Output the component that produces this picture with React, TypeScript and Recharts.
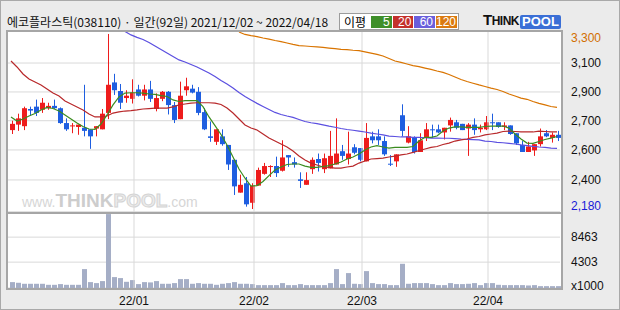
import React from "react";
import {
  ComposedChart,
  Bar,
  Line,
  XAxis,
  YAxis,
  CartesianGrid,
  ReferenceLine,
} from "recharts";

// trading days in the window 2021/12/02 ~ 2022/04/18
const DAYS_DEC = [2, 3, 6, 7, 8, 9, 10, 13, 14, 15, 16, 17, 20, 21, 22, 23, 24, 27, 28, 29, 30];
const DAYS_JAN = [3, 4, 5, 6, 7, 10, 11, 12, 13, 14, 17, 18, 19, 20, 21, 24, 25, 26, 27, 28];
const DAYS_FEB = [3, 4, 7, 8, 9, 10, 11, 14, 15, 16, 17, 18, 21, 22, 23, 24, 25, 28];
const DAYS_MAR = [2, 3, 4, 7, 8, 10, 11, 14, 15, 16, 17, 18, 21, 22, 23, 24, 25, 28, 29, 30, 31];
const DAYS_APR = [1, 4, 5, 6, 7, 8, 11, 12, 13, 14, 15, 18];

const pad = (n: number) => (n < 10 ? "0" + n : "" + n);
const DATES = [
  ...DAYS_DEC.map((d) => `2021-12-${pad(d)}`),
  ...DAYS_JAN.map((d) => `2022-01-${pad(d)}`),
  ...DAYS_FEB.map((d) => `2022-02-${pad(d)}`),
  ...DAYS_MAR.map((d) => `2022-03-${pad(d)}`),
  ...DAYS_APR.map((d) => `2022-04-${pad(d)}`),
];

const MONTH_STARTS = ["2022-01-03", "2022-02-03", "2022-03-02", "2022-04-01"];
const MONTH_LABELS = ["22/01", "22/02", "22/03", "22/04"];

const OPEN = [
  2685, 2720, 2710, 2820, 2835, 2815, 2825, 2840, 2825, 2730,
  2710, 2705, 2700, 2690, 2695, 2690, 2795, 2990, 2935, 2890,
  2885, 2945, 2905, 2945, 2820, 2885, 2930, 2845, 2755, 2940,
  2950, 2930, 2800, 2645, 2610, 2645, 2590, 2495, 2285, 2345,
  2220, 2330, 2405, 2450, 2455, 2425, 2525, 2480, 2370, 2335,
  2435, 2500, 2435, 2440, 2465, 2550, 2500, 2575, 2570, 2485,
  2645, 2645, 2615, 2470, 2485, 2780, 2605, 2635, 2545, 2635,
  2690, 2690, 2670, 2715, 2735, 2725, 2695, 2720, 2690, 2690,
  2735, 2735, 2705, 2715, 2665, 2590, 2545, 2555, 2595, 2665,
  2635, 2655,
];
const HIGH = [
  2745, 2790, 2835, 2835, 2880, 2890, 2860, 2880, 2830, 2760,
  2730, 2720, 2975, 2690, 2710, 2820, 3300, 3045, 2980, 2940,
  3010, 2975, 2975, 3000, 2920, 2935, 2935, 2865, 2995, 3020,
  2975, 2960, 2825, 2740, 2690, 2690, 2590, 2495, 2400, 2385,
  2345, 2445, 2475, 2460, 2515, 2620, 2525, 2510, 2415, 2415,
  2510, 2535, 2535, 2680, 2760, 2590, 2675, 2595, 2570, 2730,
  2675, 2690, 2645, 2525, 2530, 2850, 2710, 2645, 2665, 2730,
  2720, 2720, 2700, 2765, 2750, 2725, 2730, 2760, 2720, 2775,
  2790, 2735, 2735, 2715, 2665, 2615, 2610, 2595, 2695, 2685,
  2670, 2680,
];
const LOW = [
  2660, 2680, 2685, 2780, 2775, 2795, 2815, 2820, 2725, 2680,
  2665, 2655, 2645, 2565, 2645, 2690, 2755, 2910, 2820, 2860,
  2855, 2900, 2875, 2865, 2805, 2870, 2785, 2730, 2755, 2905,
  2920, 2780, 2685, 2610, 2590, 2585, 2430, 2270, 2285, 2195,
  2180, 2330, 2400, 2385, 2385, 2420, 2450, 2445, 2315, 2335,
  2405, 2420, 2410, 2440, 2465, 2495, 2465, 2530, 2485, 2485,
  2600, 2590, 2520, 2455, 2450, 2645, 2600, 2535, 2545, 2615,
  2635, 2665, 2625, 2675, 2690, 2685, 2520, 2655, 2670, 2685,
  2685, 2700, 2685, 2655, 2590, 2545, 2545, 2520, 2580, 2640,
  2605, 2615,
];
const CLOSE = [
  2725, 2760, 2825, 2810, 2795, 2860, 2840, 2825, 2730, 2690,
  2715, 2720, 2680, 2645, 2710, 2790, 2975, 2940, 2860, 2905,
  2925, 2905, 2945, 2885, 2890, 2930, 2845, 2750, 2905, 2965,
  2925, 2795, 2690, 2635, 2690, 2595, 2465, 2325, 2335, 2210,
  2330, 2430, 2455, 2455, 2410, 2510, 2510, 2465, 2360, 2365,
  2495, 2475, 2505, 2520, 2535, 2520, 2535, 2540, 2495, 2635,
  2620, 2620, 2530, 2465, 2530, 2680, 2645, 2545, 2620, 2690,
  2685, 2670, 2700, 2750, 2700, 2685, 2720, 2685, 2700, 2735,
  2730, 2705, 2715, 2660, 2600, 2545, 2580, 2595, 2645, 2645,
  2655, 2635,
];
// volume, x1000 shares
const VOLUME = [
  980, 870, 700, 700, 700, 700, 530, 530, 650, 530,
  530, 530, 3145, 980, 815, 1150, 12300, 1815, 1650, 1030,
  1315, 650, 980, 930, 1150, 700, 700, 815, 1480, 1480,
  700, 815, 700, 700, 530, 700, 815, 980, 700, 700,
  650, 480, 480, 480, 480, 815, 480, 480, 650, 480,
  480, 480, 480, 815, 3145, 650, 2480, 700, 650, 2810,
  815, 650, 650, 480, 480, 4030, 700, 815, 815, 815,
  650, 480, 480, 815, 650, 650, 700, 815, 480, 815,
  815, 530, 480, 480, 480, 480, 420, 480, 310, 310,
  310, 310,
];
const MA5 = [
  2769, 2743, 2756, 2775, 2791, 2814, 2830, 2823, 2807, 2782,
  2756, 2730, 2708, 2692, 2690, 2724, 2782, 2846, 2897, 2922,
  2924, 2924, 2922, 2916, 2913, 2906, 2900, 2878, 2868, 2873,
  2874, 2873, 2835, 2769, 2714, 2657, 2590, 2513, 2436, 2377,
  2327, 2330, 2356, 2394, 2430, 2449, 2465, 2468, 2468, 2455,
  2447, 2447, 2452, 2458, 2468, 2481, 2500, 2513, 2532, 2558,
  2577, 2586, 2577, 2570, 2574, 2575, 2575, 2580, 2615, 2639,
  2639, 2647, 2679, 2698, 2705, 2705, 2703, 2703, 2703, 2708,
  2711, 2711, 2711, 2698, 2660, 2628, 2602, 2600, 2612, 2625,
  2634, 2644,
];
const MA20 = [
  3127, 3089, 3044, 3012, 2993, 2974, 2948, 2922, 2903, 2871,
  2852, 2833, 2814, 2788, 2769, 2769, 2775, 2794, 2801, 2807,
  2810, 2814, 2820, 2823, 2826, 2826, 2826, 2833, 2846, 2852,
  2858, 2860, 2860, 2860, 2858, 2849, 2826, 2794, 2756, 2718,
  2698, 2686, 2660, 2634, 2615, 2596, 2577, 2551, 2519, 2494,
  2474, 2462, 2449, 2446, 2442, 2442, 2449, 2455, 2474, 2487,
  2500, 2503, 2506, 2513, 2519, 2526, 2532, 2542, 2554, 2564,
  2574, 2580, 2593, 2602, 2615, 2622, 2628, 2638, 2644, 2654,
  2660, 2666, 2676, 2679, 2676, 2673, 2673, 2673, 2679, 2676,
  2673, 2673,
];
// 60-day line shows from 2021-12-30, 120-day line from 2022-01-27
const MA60_VISIBLE = [
  3316, 3294, 3278, 3265, 3246, 3223, 3201, 3178, 3156, 3134,
  3121, 3105, 3089, 3070, 3050, 3028, 3002, 2980, 2954, 2926,
  2900, 2878, 2856, 2836, 2817, 2798, 2785, 2775, 2766, 2753,
  2740, 2732, 2726, 2718, 2710, 2703, 2695, 2689, 2684, 2679,
  2673, 2666, 2660, 2654, 2647, 2644, 2641, 2641, 2639, 2638,
  2636, 2634, 2634, 2633, 2633, 2631, 2628, 2626, 2624, 2622,
  2615, 2612, 2607, 2604, 2600, 2596, 2590, 2586, 2581, 2577,
  2575, 2570, 2568,
];
const MA120_VISIBLE = [
  3313, 3297, 3289, 3283, 3274, 3267, 3258, 3251, 3242, 3233,
  3226, 3223, 3220, 3217, 3214, 3210, 3206, 3202, 3200, 3196,
  3193, 3185, 3177, 3169, 3159, 3143, 3127, 3118, 3108, 3098,
  3091, 3082, 3073, 3063, 3054, 3041, 3025, 3009, 2996, 2985,
  2974, 2964, 2954, 2945, 2932, 2916, 2903, 2890, 2882, 2868,
  2856, 2846, 2836, 2830,
];

const PRICE_DOMAIN = [2161, 3319];
const PRICE_TICKS = [3114, 2929, 2745, 2558, 2366];
const PRICE_LABELS = ["3,100", "2,900", "2,700", "2,600", "2,400"];
const VOL_DOMAIN = [0, 12646];
const VOL_TICKS = [0, 4303, 8463];
const VOL_LABELS = ["x1000", "4303", "8463"];

const MA60 = [...Array(DATES.length - MA60_VISIBLE.length).fill(null), ...MA60_VISIBLE];
const MA120 = [...Array(DATES.length - MA120_VISIBLE.length).fill(null), ...MA120_VISIBLE];

const rows = DATES.map((date, i) => ({
  date,
  open: OPEN[i],
  high: HIGH[i],
  low: LOW[i],
  close: CLOSE[i],
  vol: VOLUME[i],
  ma5: MA5[i],
  ma20: MA20[i],
  ma60: MA60[i],
  ma120: MA120[i],
}));

const MAX_HIGH = Math.max(...HIGH);
const MIN_LOW = Math.min(...LOW);

const RED = "#ee1c1c";
const BLUE = "#1e5ee0";
const GRID = "#d9d9d9";
const FONT = "'Liberation Sans', Arial, sans-serif";
const C5 = "#3b8c1f";
const C20 = "#b8282a";
const C60 = "#5b4fe0";
const C120 = "#d97400";

const fmt = (n: number) => n.toLocaleString("en-US");

function Candle(props: any) {
  const { x, y, height, payload } = props;
  if (!payload || y == null) return null;
  const { open, close, high, low } = payload;
  const top = Math.min(y, y + height);
  const h = Math.abs(height);
  const k = high > low ? h / (high - low) : 0;
  const py = (v: number) => top + (high - v) * k;
  const left = Math.round(x + 0.5);
  const cx = left + 2.5;
  const color = close >= open ? RED : BLUE;
  const bTop = py(Math.max(open, close));
  const bBot = py(Math.min(open, close));
  return (
    <g>
      <line x1={cx} x2={cx} y1={top} y2={top + h} stroke={color} strokeWidth={1} />
      <rect x={left} y={bTop} width={5} height={Math.max(1, bBot - bTop)} fill={color} />
    </g>
  );
}

function VolBar(props: any) {
  const { x, y, height } = props;
  if (y == null || !height) return null;
  return <rect x={Math.round(x + 0.5)} y={y} width={5} height={height} fill="#a5aec6" />;
}

function PriceTick(props: any) {
  const { x, y, index } = props;
  return (
    <text x={x + 3} y={y + 4} fontSize={12} fontFamily={FONT} fill="#111" textAnchor="start">
      {PRICE_LABELS[index]}
    </text>
  );
}

function VolTick(props: any) {
  const { x, y, index } = props;
  return (
    <text x={x + 3} y={y + (index === 0 ? 2 : 4)} fontSize={12} fontFamily={FONT} fill="#111" textAnchor="start">
      {VOL_LABELS[index]}
    </text>
  );
}

function MonthTick(props: any) {
  const { x, y, index } = props;
  return (
    <text x={x - 3} y={y + 9} fontSize={12} fontFamily={FONT} fill="#111" textAnchor="middle">
      {MONTH_LABELS[index]}
    </text>
  );
}

const extremeLabel = (text: string, color: string, dy: number) => (p: any) => {
  const vb = p.viewBox || {};
  return (
    <text x={vb.x + vb.width + 11} y={vb.y + dy} fontSize={12} fontFamily={FONT} fill={color}>
      {text}
    </text>
  );
};

const LEGEND = [
  { label: "5", color: "#3f8f2a" },
  { label: "20", color: "#c4302b" },
  { label: "60", color: "#6a5fdc" },
  { label: "120", color: "#db7a10" },
];

export default function App() {
  return (
    <div
      style={{
        position: "absolute",
        left: 0,
        top: 0,
        width: 620,
        height: 310,
        background: "#ebebeb",
        overflow: "hidden",
        fontFamily: FONT,
      }}
    >
      {/* plot background */}
      <div style={{ position: "absolute", left: 8, top: 32, width: 553, height: 256, background: "#fff" }} />

      {/* watermark */}
      <div
        style={{
          position: "absolute",
          left: 22,
          top: 191,
          whiteSpace: "nowrap",
          fontFamily: FONT,
          lineHeight: "20px",
          color: "#d6d6d6",
        }}
      >
        <span style={{ fontSize: 14 }}>www.</span>
        <span style={{ fontSize: 19, fontWeight: 700, color: "#cdcdcd" }}>THINK</span>
        <span style={{ fontSize: 19, fontWeight: 700, color: "#ececec", WebkitTextStroke: "1px #d4d4d4" }}>POOL</span>
        <span style={{ fontSize: 14 }}>.com</span>
      </div>

      {/* price panel */}
      <div style={{ position: "absolute", left: 0, top: 0 }}>
        <ComposedChart width={620} height={216} data={rows} margin={{ top: 31, right: 0, bottom: 4, left: 8 }}>
          <CartesianGrid vertical={false} stroke={GRID} />
          <XAxis dataKey="date" hide />
          <YAxis
            orientation="right"
            width={60}
            domain={PRICE_DOMAIN}
            allowDataOverflow
            ticks={PRICE_TICKS}
            interval={0}
            axisLine={false}
            tickLine={false}
            tick={PriceTick}
          />
          {MONTH_STARTS.map((d) => (
            <ReferenceLine key={d} x={d} position="start" stroke={GRID} />
          ))}
          <ReferenceLine y={MAX_HIGH} stroke="none" label={extremeLabel(fmt(MAX_HIGH), "#d26e00", 8)} />
          <ReferenceLine y={MIN_LOW} stroke="none" label={extremeLabel(fmt(MIN_LOW), "#1a1ad8", 1)} />
          <Line dataKey="ma120" stroke={C120} strokeWidth={1.2} dot={false} isAnimationActive={false} />
          <Line dataKey="ma60" stroke={C60} strokeWidth={1.2} dot={false} isAnimationActive={false} />
          <Line dataKey="ma20" stroke={C20} strokeWidth={1.2} dot={false} isAnimationActive={false} />
          <Line dataKey="ma5" stroke={C5} strokeWidth={1.2} dot={false} isAnimationActive={false} />
          <Bar
            dataKey={(d: any) => [d.low, d.high]}
            barSize={5}
            shape={Candle}
            isAnimationActive={false}
          />
        </ComposedChart>
      </div>

      {/* volume panel */}
      <div style={{ position: "absolute", left: 0, top: 0 }}>
        <ComposedChart width={620} height={310} data={rows} margin={{ top: 212, right: 0, bottom: 0, left: 8 }}>
          <CartesianGrid vertical={false} stroke={GRID} />
          <XAxis
            dataKey="date"
            height={22}
            ticks={MONTH_STARTS}
            interval={0}
            axisLine={false}
            tickLine={false}
            tick={MonthTick}
          />
          <YAxis
            orientation="right"
            width={60}
            domain={VOL_DOMAIN}
            allowDataOverflow
            ticks={VOL_TICKS}
            interval={0}
            axisLine={false}
            tickLine={false}
            tick={VolTick}
          />
          {MONTH_STARTS.map((d) => (
            <ReferenceLine key={d} x={d} position="start" stroke={GRID} />
          ))}
          <Bar dataKey="vol" barSize={5} shape={VolBar} isAnimationActive={false} />
        </ComposedChart>
      </div>

      {/* plot frame */}
      <div
        style={{
          position: "absolute",
          left: 6,
          top: 30,
          width: 557,
          height: 260,
          boxSizing: "border-box",
          border: "2px solid #a6a6a6",
          pointerEvents: "none",
        }}
      />
      <div style={{ position: "absolute", left: 8, top: 212, width: 553, height: 2, background: "#a6a6a6" }} />

      {/* title */}
      <div
        style={{
          position: "absolute",
          left: 7,
          top: 15,
          fontSize: 12,
          lineHeight: "14px",
          whiteSpace: "nowrap",
          color: "#111",
          fontFamily: "'Noto Sans CJK KR', sans-serif",
        }}
      >
        에코플라스틱(038110) · 일간(92일) 2021/12/02 ~ 2022/04/18
      </div>

      {/* legend */}
      <div
        style={{
          position: "absolute",
          left: 339,
          top: 13,
          width: 120,
          height: 17,
          boxSizing: "border-box",
          border: "1px solid #9c9c9c",
          background: "#fff",
          display: "flex",
          alignItems: "center",
          fontSize: 12,
          whiteSpace: "nowrap",
        }}
      >
        <span style={{ fontFamily: "'Noto Sans CJK KR', sans-serif", marginLeft: 4, marginRight: 5, lineHeight: "14px" }}>
          이평
        </span>
        {LEGEND.map((l) => (
          <span
            key={l.label}
            style={{
              display: "inline-block",
              width: 21,
              height: 12,
              marginRight: 1,
              background: l.color,
              color: "#fff",
              fontSize: 12,
              lineHeight: "12px",
              textAlign: "right",
              paddingRight: 2,
              boxSizing: "border-box",
            }}
          >
            {l.label}
          </span>
        ))}
      </div>

      {/* logo */}
      <div
        style={{
          position: "absolute",
          left: 483,
          top: 14,
          height: 15,
          display: "flex",
          alignItems: "flex-end",
          whiteSpace: "nowrap",
          fontWeight: 700,
          fontFamily: FONT,
        }}
      >
        <span style={{ fontSize: 15, lineHeight: "15px", color: "#111", letterSpacing: -0.5 }}>
          T<span style={{ fontSize: 12 }}>HINK</span>
        </span>
        <span
          style={{
            fontSize: 13,
            lineHeight: "14px",
            color: "#fff",
            background: "#3b6fd6",
            padding: "0 2px",
            marginLeft: 1,
            borderRadius: 2,
          }}
        >
          POOL
        </span>
      </div>

      {/* outer border */}
      <div
        style={{
          position: "absolute",
          left: 0,
          top: 0,
          width: 620,
          height: 310,
          boxSizing: "border-box",
          border: "1px solid #a9a9a9",
          pointerEvents: "none",
        }}
      />
    </div>
  );
}
